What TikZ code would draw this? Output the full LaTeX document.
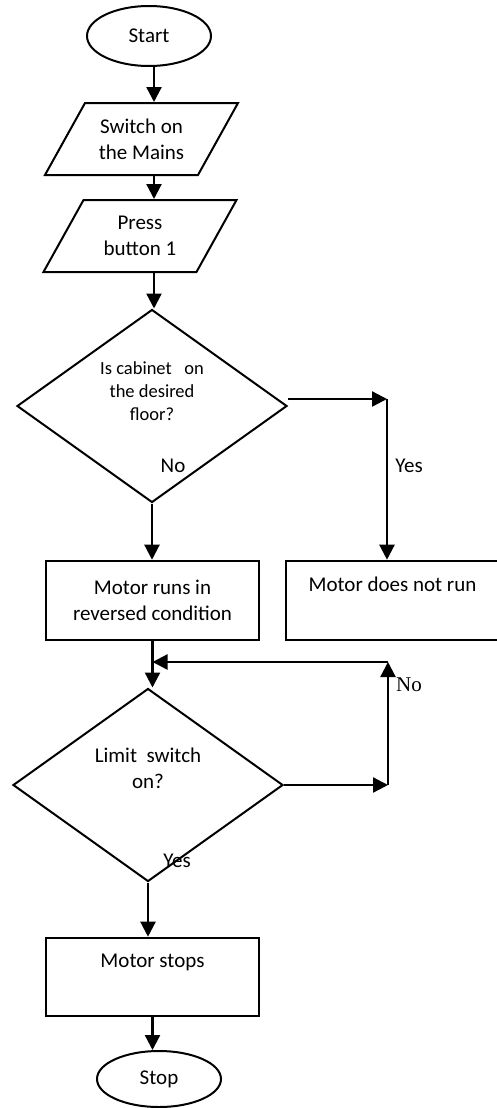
\documentclass[tikz,border=0pt]{standalone}
\usepackage{fontspec}
\setmainfont{Carlito}
\newfontfamily\serifno{Liberation Serif}
\usetikzlibrary{positioning,arrows.meta,shapes.geometric}

\begin{document}
\begin{tikzpicture}[
	x=1pt, y=1pt,
	font=\fontsize{21pt}{25.6pt}\selectfont,
	terminal/.style={
		draw,
		ellipse,
		line width=2pt,
		minimum width=124pt,
		minimum height=60pt,
		inner sep=0pt,
	},
	io/.style={
		draw,
		rectangle,
		shift={#1},
		xslant=0.556,
		transform shape,
		minimum width=153pt,
		minimum height=72pt,
		line width=2pt,
	},
	iotext/.style={align=center, inner sep=0pt},
	decision/.style={
		draw,
		diamond,
		shape aspect=1.4,
		minimum width=270pt,
		minimum height=193pt,
		line width=2pt,
		align=center,
		inner sep=0pt,
	},
	process/.style={
		draw,
		rectangle,
		minimum width=213pt,
		minimum height=79pt,
		line width=2.6pt,
		align=center,
		inner sep=0pt,
	},
	arr/.style={-{Triangle[length=15pt,width=15pt]}, line width=2.3pt},
	tag/.style={inner sep=0pt},
]
\useasboundingbox (0,0) rectangle (497,-1108);

\node[terminal] (start) at (149,-36) {Start};
\node[io={(141.5,-139)}] (swon) at (0,0) {};
\node[iotext] (swontext) at (swon.center) {Switch on\\the Mains};
\node[io={(140,-236)}] (press) at (0,0) {};
\node[iotext] (presstext) at (press.center) {Press\\button 1};
\node[decision, font=\fontsize{18.5pt}{23pt}\selectfont] (cab) at (152,-406)
	{Is cabinet\ \ \ on\\the desired\\floor?\\\strut};
\node[process] (runrev) at (152.5,-600.5) {Motor runs in\\reversed condition};
\node[process] (notrun) at (392.5,-600.5) {Motor does not run\\\strut};
\node[decision] (lim) at (148,-785) {Limit\ \ switch\\on?\\\strut};
\node[process, minimum height=78pt] (stops) at (152.5,-977) {Motor stops\\\strut};
\node[terminal, minimum height=56pt] (stop) at (159,-1079) {Stop};

% bends of the two side branches
\coordinate (col) at (154,0);
\coordinate (yescorner) at (387,-399);
\coordinate (nobot) at (388,-785);
\coordinate (notop) at (388,-662);

\draw[arr] (col |- start.south) -- (col |- swon.north);
\draw[arr] (col |- swon.south) -- (col |- press.north);
\draw[arr] (col |- press.south) -- (col |- cab.north);
\draw[arr] (cab.south) -- (cab.south |- runrev.north);
\draw[arr] (cab.east |- yescorner) -- (yescorner);
\draw[arr] (yescorner) -- (yescorner |- notrun.north);
\draw[arr] (runrev.south) -- (runrev.south |- lim.north);
\draw[arr] (lim.east) -- (nobot);
\draw[arr] (nobot) -- (notop);
\draw[arr] (notop) -- (notop -| runrev.south);
\draw[arr] (lim.south) -- (lim.south |- stops.north);
\draw[arr] (stops.south) -- (stops.south |- stop.north);

\node[tag] (cabno) at (173,-466) {No};
\node[tag] (cabyes) at (409,-466) {Yes};
\node[tag, font=\serifno\fontsize{21pt}{25pt}\selectfont] (limno) at (409,-685) {No};
\node[tag] (limyes) at (177,-861) {Yes};

\end{tikzpicture}
\end{document}
